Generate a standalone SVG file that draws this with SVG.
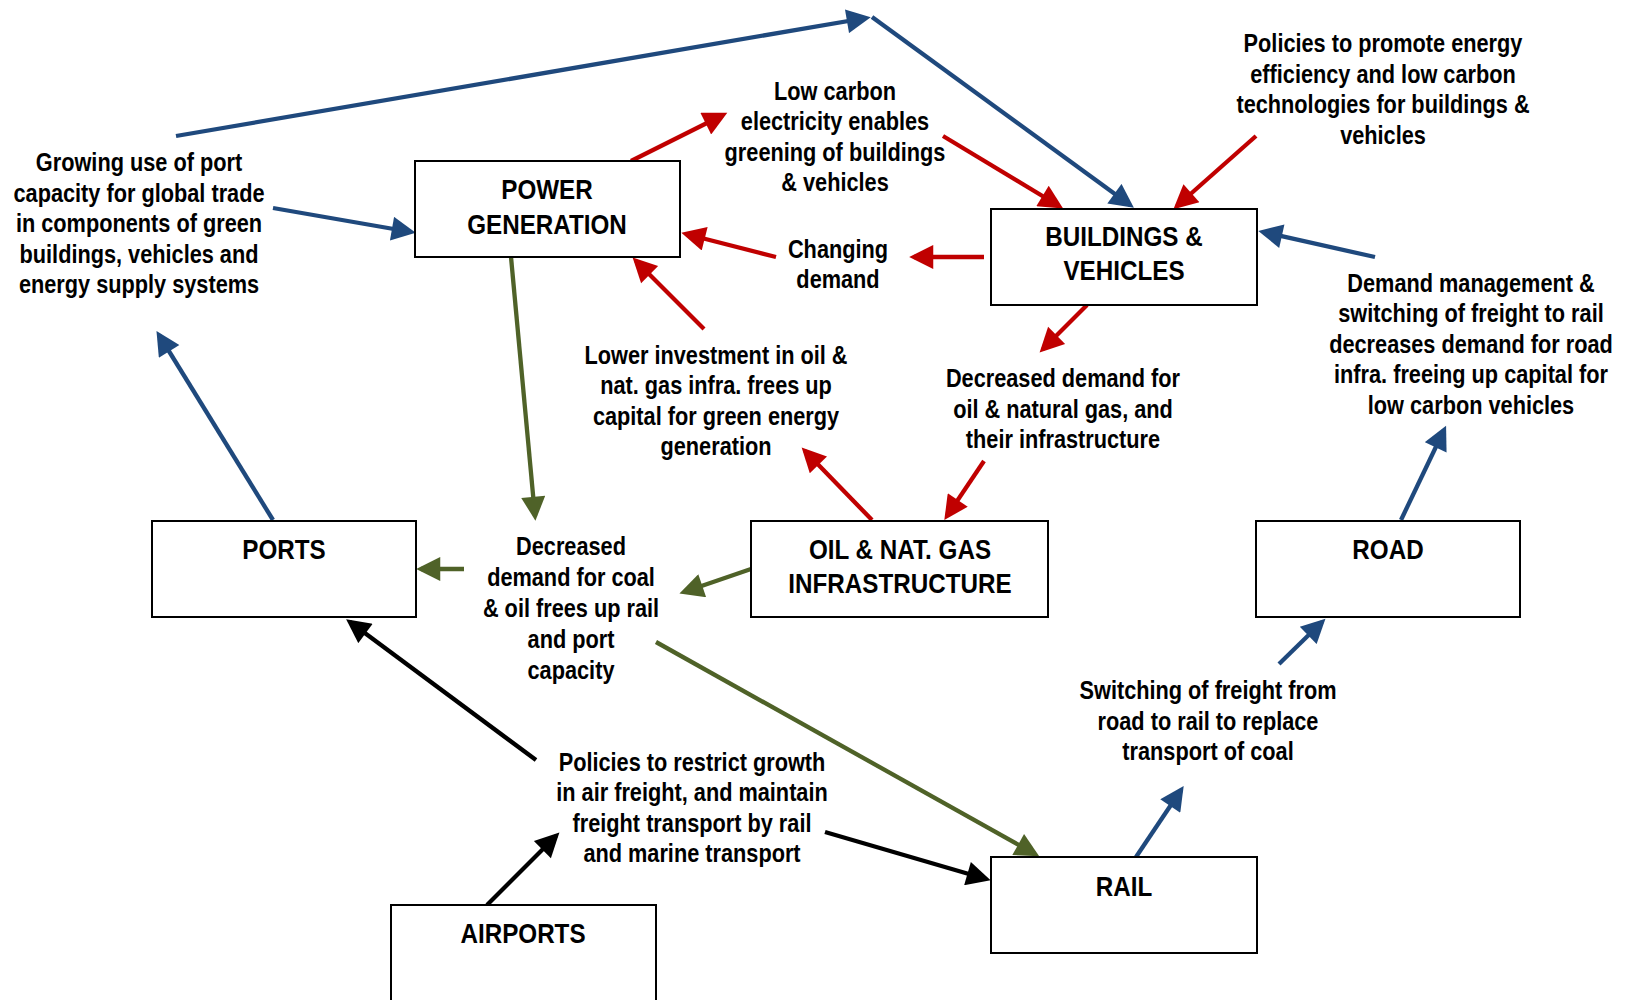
<svg xmlns="http://www.w3.org/2000/svg" width="1631" height="1000" viewBox="0 0 1631 1000">
<style>
.bg{fill:#fff}
.node rect{fill:#fff;stroke:#000;stroke-width:2}
.nt{font-family:"Liberation Sans",Arial,sans-serif;font-weight:bold;font-size:28.5px;text-anchor:middle;fill:#000}
.lt{font-family:"Liberation Sans",Arial,sans-serif;font-weight:bold;font-size:26.5px;text-anchor:middle;fill:#000}
.c{fill:none;stroke-width:4.3}
.b{stroke:#1F497D;marker-end:url(#ab)}
.r{stroke:#C00000;marker-end:url(#ar)}
.g{stroke:#4F6228;marker-end:url(#ag)}
.k{stroke:#000;marker-end:url(#ak)}
</style>
<defs>
<marker id="ab" viewBox="0 0 10 10" refX="8" refY="5" markerWidth="6" markerHeight="5.6" orient="auto"><path d="M0,0 L10,5 L0,10 z" fill="#1F497D"/></marker>
<marker id="ar" viewBox="0 0 10 10" refX="8" refY="5" markerWidth="6" markerHeight="5.6" orient="auto"><path d="M0,0 L10,5 L0,10 z" fill="#C00000"/></marker>
<marker id="ag" viewBox="0 0 10 10" refX="8" refY="5" markerWidth="6" markerHeight="5.6" orient="auto"><path d="M0,0 L10,5 L0,10 z" fill="#4F6228"/></marker>
<marker id="ak" viewBox="0 0 10 10" refX="8" refY="5" markerWidth="6" markerHeight="5.6" orient="auto"><path d="M0,0 L10,5 L0,10 z" fill="#000"/></marker>
</defs>
<rect class="bg" x="0" y="0" width="1631" height="1000"/>

<g id="connectors">
<line class="c b" x1="176" y1="136" x2="866" y2="18"/>
<line class="c b" x1="872" y1="17" x2="1130" y2="205"/>
<line class="c b" x1="273" y1="208" x2="411" y2="232"/>
<line class="c b" x1="273" y1="520" x2="159" y2="335"/>
<line class="c b" x1="1375" y1="257" x2="1263" y2="232"/>
<line class="c b" x1="1401" y1="520" x2="1444" y2="430"/>
<line class="c b" x1="1279" y1="664" x2="1322" y2="622"/>
<line class="c b" x1="1136" y1="857" x2="1181" y2="790"/>

<line class="c r" x1="631" y1="161" x2="723" y2="115"/>
<line class="c r" x1="943" y1="136" x2="1059" y2="206"/>
<line class="c r" x1="1256" y1="136" x2="1177" y2="206"/>
<line class="c r" x1="776" y1="257" x2="686" y2="234"/>
<line class="c r" x1="984" y1="257" x2="914" y2="257"/>
<line class="c r" x1="704" y1="329" x2="636" y2="261"/>
<line class="c r" x1="1087" y1="305" x2="1043" y2="349"/>
<line class="c r" x1="872" y1="520" x2="805" y2="451"/>
<line class="c r" x1="984" y1="461" x2="947" y2="516"/>

<line class="c g" x1="511" y1="257" x2="535" y2="516"/>
<line class="c g" x1="464" y1="569" x2="421" y2="569"/>
<line class="c g" x1="751" y1="569" x2="684" y2="592"/>
<line class="c g" x1="656" y1="642" x2="1035" y2="854"/>

<line class="c k" x1="536" y1="760" x2="350" y2="622"/>
<line class="c k" x1="487" y1="905" x2="556" y2="836"/>
<line class="c k" x1="825" y1="832" x2="986" y2="879"/>
</g>

<g id="power-generation" class="node"><rect x="415" y="161" width="265" height="96"/><text class="nt" transform="matrix(0.85,0,0,1,547,0)" x="0" y="199">POWER</text><text class="nt" transform="matrix(0.85,0,0,1,547,0)" x="0" y="234">GENERATION</text></g>
<g id="buildings-vehicles" class="node"><rect x="991" y="209" width="266" height="96"/><text class="nt" transform="matrix(0.85,0,0,1,1124,0)" x="0" y="246">BUILDINGS &amp;</text><text class="nt" transform="matrix(0.85,0,0,1,1124,0)" x="0" y="280">VEHICLES</text></g>
<g id="ports" class="node"><rect x="152" y="521" width="264" height="96"/><text class="nt" transform="matrix(0.85,0,0,1,284,0)" x="0" y="559">PORTS</text></g>
<g id="oil-gas" class="node"><rect x="751" y="521" width="297" height="96"/><text class="nt" transform="matrix(0.85,0,0,1,900,0)" x="0" y="559">OIL &amp; NAT. GAS</text><text class="nt" transform="matrix(0.85,0,0,1,900,0)" x="0" y="593">INFRASTRUCTURE</text></g>
<g id="road" class="node"><rect x="1256" y="521" width="264" height="96"/><text class="nt" transform="matrix(0.85,0,0,1,1388,0)" x="0" y="559">ROAD</text></g>
<g id="rail" class="node"><rect x="991" y="857" width="266" height="96"/><text class="nt" transform="matrix(0.85,0,0,1,1124,0)" x="0" y="896">RAIL</text></g>
<g id="airports" class="node"><rect x="391" y="905" width="265" height="110"/><text class="nt" transform="matrix(0.85,0,0,1,523,0)" x="0" y="943">AIRPORTS</text></g>

<g id="labels">
<text class="lt" transform="matrix(0.82,0,0,1,139,0)" y="171"><tspan x="0">Growing use of port</tspan><tspan x="0" dy="30.6">capacity for global trade</tspan><tspan x="0" dy="30.6">in components of green</tspan><tspan x="0" dy="30.6">buildings, vehicles and</tspan><tspan x="0" dy="30.6">energy supply systems</tspan></text>
<text class="lt" transform="matrix(0.82,0,0,1,835,0)" y="100"><tspan x="0">Low carbon</tspan><tspan x="0" dy="30.5">electricity enables</tspan><tspan x="0" dy="30.5">greening of buildings</tspan><tspan x="0" dy="30.5">&amp; vehicles</tspan></text>
<text class="lt" transform="matrix(0.82,0,0,1,1383,0)" y="52"><tspan x="0">Policies to promote energy</tspan><tspan x="0" dy="30.6">efficiency and low carbon</tspan><tspan x="0" dy="30.6">technologies for buildings &amp;</tspan><tspan x="0" dy="30.6">vehicles</tspan></text>
<text class="lt" transform="matrix(0.82,0,0,1,838,0)" y="258"><tspan x="0">Changing</tspan><tspan x="0" dy="30.4">demand</tspan></text>
<text class="lt" transform="matrix(0.82,0,0,1,1471,0)" y="292"><tspan x="0">Demand management &amp;</tspan><tspan x="0" dy="30.4">switching of freight to rail</tspan><tspan x="0" dy="30.4">decreases demand for road</tspan><tspan x="0" dy="30.4">infra. freeing up capital for</tspan><tspan x="0" dy="30.4">low carbon vehicles</tspan></text>
<text class="lt" transform="matrix(0.82,0,0,1,716,0)" y="364"><tspan x="0">Lower investment in oil &amp;</tspan><tspan x="0" dy="30.4">nat. gas infra. frees up</tspan><tspan x="0" dy="30.4">capital for green energy</tspan><tspan x="0" dy="30.4">generation</tspan></text>
<text class="lt" transform="matrix(0.82,0,0,1,1063,0)" y="387"><tspan x="0">Decreased demand for</tspan><tspan x="0" dy="30.7">oil &amp; natural gas, and</tspan><tspan x="0" dy="30.7">their infrastructure</tspan></text>
<text class="lt" transform="matrix(0.82,0,0,1,571,0)" y="555"><tspan x="0">Decreased</tspan><tspan x="0" dy="31">demand for coal</tspan><tspan x="0" dy="31">&amp; oil frees up rail</tspan><tspan x="0" dy="31">and port</tspan><tspan x="0" dy="31">capacity</tspan></text>
<text class="lt" transform="matrix(0.82,0,0,1,1208,0)" y="699"><tspan x="0">Switching of freight from</tspan><tspan x="0" dy="30.7">road to rail to replace</tspan><tspan x="0" dy="30.7">transport of coal</tspan></text>
<text class="lt" transform="matrix(0.82,0,0,1,692,0)" y="771"><tspan x="0">Policies to restrict growth</tspan><tspan x="0" dy="30.5">in air freight, and maintain</tspan><tspan x="0" dy="30.5">freight transport by rail</tspan><tspan x="0" dy="30.5">and marine transport</tspan></text>
</g>
</svg>
